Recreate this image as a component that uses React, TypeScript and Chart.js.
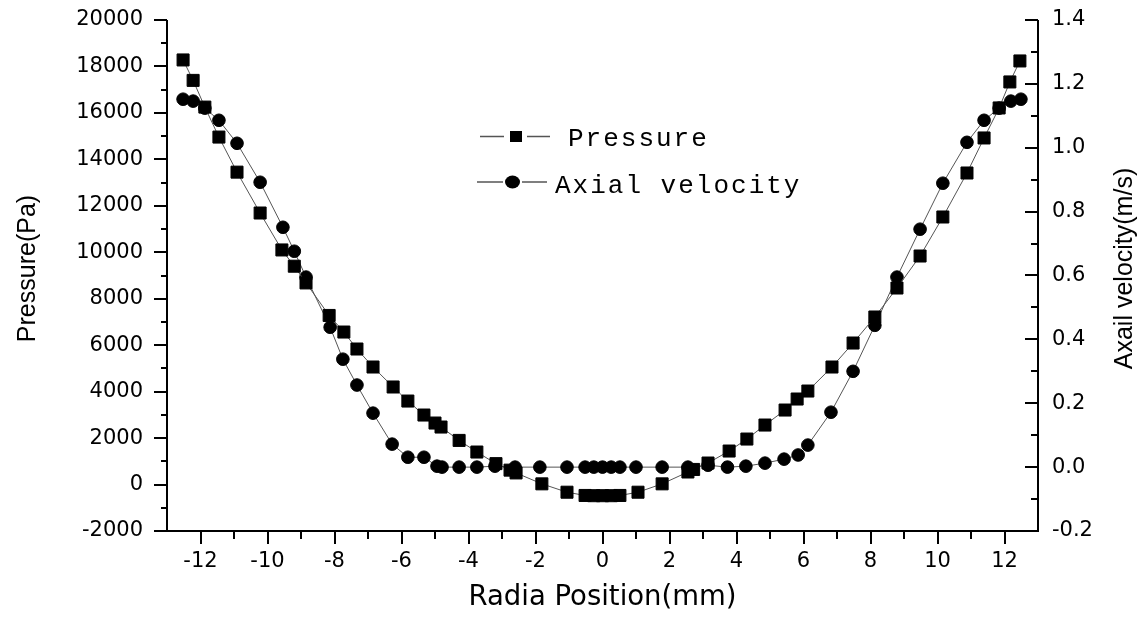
import React, { useEffect, useRef } from "react";
import { Chart, registerables } from "chart.js";
Chart.register(...registerables);

const pressureX = [-12.52, -12.22, -11.87, -11.45, -10.91, -10.22, -9.57, -9.2, -8.85, -8.16, -7.72, -7.33, -6.85, -6.25, -5.81, -5.33, -5.0, -4.82, -4.28, -3.75, -3.18, -2.76, -2.58, -1.81, -1.06, -0.52, -0.26, 0, 0.26, 0.52, 1.06, 1.78, 2.55, 2.72, 3.15, 3.78, 4.31, 4.85, 5.45, 5.81, 6.13, 6.85, 7.48, 8.13, 8.79, 9.48, 10.16, 10.88, 11.39, 11.84, 12.16, 12.46];
const pressureY = [18280, 17400, 16250, 14960, 13450, 11690, 10100, 9400, 8680, 7280, 6566, 5835, 5060, 4200, 3595, 2993, 2648, 2476, 1900, 1400, 900, 620, 500, 30, -330, -470, -480, -480, -480, -470, -330, 30, 540, 650, 926, 1443, 1959, 2562, 3208, 3682, 4026, 5060, 6093, 7213, 8461, 9839, 11519, 13413, 14921, 16213, 17333, 18237];

const velocityX = [-12.52, -12.22, -11.87, -11.45, -10.91, -10.22, -9.54, -9.2, -8.85, -8.13, -7.75, -7.33, -6.85, -6.28, -5.81, -5.33, -4.94, -4.79, -4.28, -3.75, -3.21, -2.61, -1.87, -1.06, -0.52, -0.26, 0, 0.26, 0.52, 1.0, 1.78, 2.55, 3.15, 3.73, 4.28, 4.85, 5.42, 5.84, 6.13, 6.82, 7.48, 8.13, 8.79, 9.48, 10.16, 10.88, 11.39, 11.84, 12.19, 12.49];
const velocityY = [1.152, 1.146, 1.124, 1.086, 1.014, 0.892, 0.751, 0.676, 0.595, 0.438, 0.338, 0.257, 0.169, 0.072, 0.031, 0.031, 0.003, 0.0, 0, 0, 0.003, 0, 0, 0, 0, 0, 0, 0, 0, 0, 0, 0, 0.006, 0, 0.003, 0.0125, 0.025, 0.038, 0.069, 0.172, 0.3, 0.444, 0.595, 0.745, 0.889, 1.017, 1.086, 1.124, 1.146, 1.152];

const xTicks = [-12, -10, -8, -6, -4, -2, 0, 2, 4, 6, 8, 10, 12];
const xMinorTicks = [-11, -9, -7, -5, -3, -1, 1, 3, 5, 7, 9, 11];
const pressureTicks = [-2000, 0, 2000, 4000, 6000, 8000, 10000, 12000, 14000, 16000, 18000, 20000];
const pressureMinorTicks = [-1000, 1000, 3000, 5000, 7000, 9000, 11000, 13000, 15000, 17000, 19000];
const velocityTicks = [-0.2, 0, 0.2, 0.4, 0.6, 0.8, 1.0, 1.2, 1.4];
const velocityMinorTicks = [-0.1, 0.1, 0.3, 0.5, 0.7, 0.9, 1.1, 1.3];

const seriesNames = ["Pressure", "Axial velocity"];
const xTitle = "Radia Position(mm)";
const leftTitle = "Pressure(Pa)";
const rightTitle = "Axail velocity(m/s)";

const decorPlugin = {
  id: "decor",
  afterDraw(chart: any) {
    const ctx = chart.ctx as CanvasRenderingContext2D;
    const { left, right, top, bottom } = chart.chartArea;
    const xs = chart.scales.x;
    const yl = chart.scales.yP;
    const yr = chart.scales.yV;
    ctx.save();
    ctx.strokeStyle = "#000";
    ctx.lineWidth = 2;
    ctx.beginPath();
    ctx.moveTo(left, top);
    ctx.lineTo(left, bottom);
    ctx.moveTo(left - 1, bottom);
    ctx.lineTo(right + 1, bottom);
    ctx.moveTo(right, top);
    ctx.lineTo(right, bottom);
    for (const v of xTicks) {
      const px = Math.round(xs.getPixelForValue(v));
      ctx.moveTo(px, bottom);
      ctx.lineTo(px, bottom + 13);
    }
    for (const v of xMinorTicks) {
      const px = Math.round(xs.getPixelForValue(v));
      ctx.moveTo(px, bottom);
      ctx.lineTo(px, bottom + 8);
    }
    for (const v of pressureTicks) {
      const py = Math.round(yl.getPixelForValue(v));
      ctx.moveTo(left, py);
      ctx.lineTo(left - 13, py);
    }
    for (const v of pressureMinorTicks) {
      const py = Math.round(yl.getPixelForValue(v));
      ctx.moveTo(left, py);
      ctx.lineTo(left - 6, py);
    }
    for (const v of velocityTicks) {
      const py = Math.round(yr.getPixelForValue(v));
      ctx.moveTo(right, py);
      ctx.lineTo(right - 13, py);
    }
    for (const v of velocityMinorTicks) {
      const py = Math.round(yr.getPixelForValue(v));
      ctx.moveTo(right, py);
      ctx.lineTo(right - 7, py);
    }
    ctx.stroke();

    ctx.fillStyle = "#000";
    ctx.font = "27.5px 'DejaVu Sans'";
    ctx.textAlign = "center";
    ctx.textBaseline = "alphabetic";
    ctx.fillText(xTitle, (left + right) / 2, 605);

    ctx.font = "25px 'Liberation Sans'";
    const midY = (top + bottom) / 2 - 7;
    ctx.save();
    ctx.translate(35, midY);
    ctx.rotate(-Math.PI / 2);
    ctx.fillText(leftTitle, 0, 0);
    ctx.restore();
    ctx.save();
    ctx.translate(1132, midY);
    ctx.rotate(-Math.PI / 2);
    ctx.fillText(rightTitle, 0, 0);
    ctx.restore();

    ctx.strokeStyle = "#555";
    ctx.lineWidth = 1.5;
    ctx.beginPath();
    ctx.moveTo(480, 136.5);
    ctx.lineTo(504, 136.5);
    ctx.moveTo(527, 136.5);
    ctx.lineTo(550, 136.5);
    ctx.moveTo(477, 182);
    ctx.lineTo(503, 182);
    ctx.moveTo(522, 182);
    ctx.lineTo(547, 182);
    ctx.stroke();
    ctx.fillStyle = "#000";
    ctx.fillRect(510, 131, 12, 11);
    ctx.beginPath();
    ctx.ellipse(512.5, 182, 7.5, 6.5, 0, 0, Math.PI * 2);
    ctx.fill();
    ctx.font = "26px 'Liberation Mono'";
    (ctx as any).letterSpacing = "2px";
    ctx.textAlign = "left";
    ctx.fillText(seriesNames[0], 568, 146);
    ctx.fillText(seriesNames[1], 555, 193);
    (ctx as any).letterSpacing = "0px";
    ctx.restore();
  },
};

export default function App() {
  const ref = useRef<HTMLCanvasElement>(null);
  useEffect(() => {
    if (!ref.current) return;
    const tickFont = { family: "'DejaVu Sans'", size: 21 };
    const chart = new Chart(ref.current, {
      type: "scatter",
      data: {
        datasets: [
          {
            label: seriesNames[0],
            data: pressureX.map((x, i) => ({ x, y: pressureY[i] })),
            yAxisID: "yP",
            showLine: true,
            borderColor: "#555",
            borderWidth: 1,
            pointStyle: "rect",
            pointRadius: 8.5,
            pointBackgroundColor: "#000",
            pointBorderColor: "#000",
            pointBorderWidth: 1,
            tension: 0,
          },
          {
            label: seriesNames[1],
            data: velocityX.map((x, i) => ({ x, y: velocityY[i] })),
            yAxisID: "yV",
            showLine: true,
            borderColor: "#555",
            borderWidth: 1,
            pointStyle: "circle",
            pointRadius: 6.3,
            pointBackgroundColor: "#000",
            pointBorderColor: "#000",
            pointBorderWidth: 1,
            tension: 0,
          },
        ],
      },
      options: {
        animation: false,
        responsive: false,
        devicePixelRatio: 1,
        layout: { padding: { top: 20, left: 0, right: 0, bottom: 0 } },
        plugins: { legend: { display: false }, tooltip: { enabled: false } },
        scales: {
          x: {
            type: "linear",
            min: -13,
            max: 13,
            afterBuildTicks: (s: any) => {
              s.ticks = xTicks.map((v) => ({ value: v }));
            },
            afterFit: (s: any) => {
              s.height = 90;
              s.paddingLeft = 0;
              s.paddingRight = 0;
            },
            grid: { display: false, drawTicks: false },
            border: { display: false },
            ticks: {
              font: tickFont,
              color: "#000",
              padding: 18,
              maxRotation: 0,
              autoSkip: false,
              callback: (v: any) => String(v),
            },
          },
          yP: {
            type: "linear",
            position: "left",
            min: -2000,
            max: 20000,
            afterBuildTicks: (s: any) => {
              s.ticks = pressureTicks.map((v) => ({ value: v }));
            },
            afterFit: (s: any) => {
              s.width = 167;
              s.paddingTop = 0;
              s.paddingBottom = 0;
            },
            grid: { display: false, drawTicks: false },
            border: { display: false },
            ticks: {
              font: tickFont,
              color: "#000",
              padding: 24,
              autoSkip: false,
              callback: (v: any) => String(v),
            },
          },
          yV: {
            type: "linear",
            position: "right",
            min: -0.2,
            max: 1.4,
            afterBuildTicks: (s: any) => {
              s.ticks = velocityTicks.map((v) => ({ value: v }));
            },
            afterFit: (s: any) => {
              s.width = 106;
              s.paddingTop = 0;
              s.paddingBottom = 0;
            },
            grid: { display: false, drawTicks: false },
            border: { display: false },
            ticks: {
              font: tickFont,
              color: "#000",
              padding: 14,
              autoSkip: false,
              callback: (v: any) => Number(v).toFixed(1),
            },
          },
        },
      },
      plugins: [decorPlugin],
    } as any);
    return () => chart.destroy();
  }, []);
  return (
    <div style={{ position: "absolute", left: 0, top: 0, width: 1144, height: 621, background: "#fff" }}>
      <canvas ref={ref} width={1144} height={621} />
    </div>
  );
}
